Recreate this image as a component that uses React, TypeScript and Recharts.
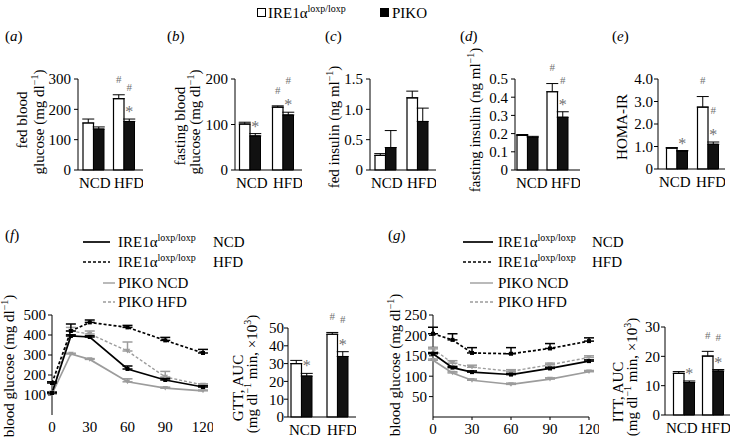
import React from "react";
import { BarChart, Bar, XAxis, YAxis, ErrorBar, LabelList, LineChart, Line } from "recharts";

const FONT = '"Liberation Serif", "Times New Roman", serif';
const GRAY = "#9c9c9c";
const MARK = "#707070";

const groups = ["NCD", "HFD"];

// (a) fed blood glucose
const aWT = [155, 235];
const aWTErr = [13, 13];
const aKO = [135, 160];
const aKOErr = [7, 8];
const aWTMark = ["", "#"];
const aKOMark = ["", "*#"];
const aTicks = [0, 100, 200, 300];

// (b) fasting blood glucose
const bWT = [101, 138];
const bWTErr = [4, 3];
const bKO = [75, 121];
const bKOErr = [5, 6];
const bWTMark = ["", "#"];
const bKOMark = ["*", "*#"];
const bTicks = [0, 100, 200];

// (c) fed insulin
const cWT = [0.24, 1.19];
const cWTErr = [0.03, 0.11];
const cKO = [0.37, 0.8];
const cKOErr = [0.28, 0.22];
const cWTMark = ["", ""];
const cKOMark = ["", ""];
const cTicks = [0, 0.5, 1.0, 1.5];

// (d) fasting insulin
const dWT = [0.19, 0.43];
const dWTErr = [0.005, 0.045];
const dKO = [0.18, 0.29];
const dKOErr = [0.005, 0.03];
const dWTMark = ["", "#"];
const dKOMark = ["", "*#"];
const dTicks = [0, 0.1, 0.2, 0.3, 0.4, 0.5];

// (e) HOMA-IR
const eWT = [0.93, 2.75];
const eWTErr = [0.02, 0.47];
const eKO = [0.8, 1.1];
const eKOErr = [0.02, 0.1];
const eWTMark = ["", "#"];
const eKOMark = ["*", "*#"];
const eTicks = [0, 1, 2, 3, 4];

// (f) GTT AUC
const fWT = [30, 46.5];
const fWTErr = [1.8, 1];
const fKO = [23, 34];
const fKOErr = [1.5, 2.7];
const fWTMark = ["", "#"];
const fKOMark = ["*", "*#"];
const fBarTicks = [0, 10, 20, 30, 40, 50];

// (g) ITT AUC
const gWT = [14.2, 20.1];
const gWTErr = [0.6, 1.6];
const gKO = [11.1, 15];
const gKOErr = [0.5, 0.5];
const gWTMark = ["", "#"];
const gKOMark = ["*", "*#"];
const gBarTicks = [0, 10, 20, 30];

// time courses (min)
const times = [0, 15, 30, 60, 90, 120];
const timeTicks = [0, 30, 60, 90, 120];

// (f) GTT
const fIreNcd = [110, 395, 390, 230, 175, 140];
const fIreNcdErr = [4, 6, 6, 15, 8, 6];
const fIreHfd = [160, 420, 463, 438, 373, 310];
const fIreHfdErr = [6, 35, 12, 10, 15, 18];
const fPikoNcd = [105, 305, 278, 166, 134, 121];
const fPikoNcdErr = [3, 4, 4, 15, 5, 4];
const fPikoHfd = [112, 420, 405, 320, 190, 150];
const fPikoHfdErr = [4, 18, 15, 45, 28, 6];
const fLineTicks = [100, 200, 300, 400, 500];

// (g) ITT
const gIreNcd = [155, 121, 110, 104, 119, 137];
const gIreNcdErr = [3, 3, 3, 3, 3, 3];
const gIreHfd = [204, 189, 157, 155, 168, 186];
const gIreHfdErr = [16, 15, 13, 15, 12, 8];
const gPikoNcd = [139, 108, 90, 80, 93, 111];
const gPikoNcdErr = [3, 3, 3, 3, 3, 3];
const gPikoHfd = [167, 132, 122, 112, 128, 146];
const gPikoHfdErr = [4, 6, 5, 4, 4, 4];
const gLineTicks = [50, 100, 150, 200, 250];

const fmt1 = (v: number) => (v === 0 ? "0" : v.toFixed(1));

const tickStyle = { fontSize: 15, fill: "#000", fontFamily: FONT };

function markLabel(vals: number[], errs: number[]) {
  return (p: any) => {
    const { x, y, width, height, value, index } = p;
    if (!value) return null;
    const errPx = (height * errs[index]) / vals[index];
    const top = y - errPx;
    const out: any[] = [];
    let cy = top;
    String(value).split("").forEach((s, k) => {
      cy -= k === 0 ? (s === "#" ? 16 : 10) : 22;
      const fs = s === "#" ? 11 : 16;
      out.push(
        <text key={k} x={x + width / 2} y={cy + (s === "#" ? 0.34 : 0.5) * fs} textAnchor="middle"
          fontSize={fs} fill={MARK} fontFamily={FONT}>{s}</text>
      );
    });
    return <g key={`m-${index}-${x}`}>{out}</g>;
  };
}

// group names sit flush with the two ends of the x axis
function edgeTick(left: number, right: number) {
  return (p: any) => {
    const first = p.index === 0;
    return (
      <text x={first ? left + 1 : right + 1} y={p.y} dy="0.71em" textAnchor={first ? "start" : "end"}
        fontSize={15} fill="#000" fontFamily={FONT}>{p.payload.value}</text>
    );
  };
}

type BarProps = {
  wt: number[]; wtErr: number[]; ko: number[]; koErr: number[];
  wtMark: string[]; koMark: string[]; ticks: number[]; fmt?: (v: number) => string;
  axisX: number; plotTop: number; plotBottom: number; axisEnd: number;
  padLeft?: number; padRight?: number; yGap?: number;
};

function BarPanel(props: BarProps) {
  const { wt, wtErr, ko, koErr, wtMark, koMark, ticks, fmt, axisX, plotTop, plotBottom, axisEnd,
    padLeft = 0, padRight = 0, yGap = 3 } = props;
  const YW = 44, MT = 34, XH = 24;
  const data = groups.map((g, i) => ({
    g, wt: wt[i], wtE: [0, wtErr[i]], ko: ko[i], koE: [0, koErr[i]], wtM: wtMark[i], koM: koMark[i],
  }));
  const width = YW + (axisEnd - axisX);
  const height = MT + (plotBottom - plotTop) + XH;
  return (
    <div style={{ position: "absolute", left: axisX - YW, top: plotTop - MT }}>
      <BarChart width={width} height={height} data={data} margin={{ top: MT, right: 0, left: 0, bottom: 0 }}
        barGap={0} barSize={10.5}>
        <XAxis dataKey="g" tickLine={false} axisLine={{ stroke: "#000" }} tick={edgeTick(YW, width)}
          tickSize={4} tickMargin={3} height={XH} padding={{ left: padLeft, right: padRight }} interval={0} />
        <YAxis width={YW} domain={[0, ticks[ticks.length - 1]]} ticks={ticks} tickFormatter={fmt} interval={0}
          axisLine={{ stroke: "#000" }} tickLine={{ stroke: "#000" }} tickSize={4} tickMargin={yGap} tick={tickStyle} />
        <Bar dataKey="wt" fill="#fff" stroke="#000" strokeWidth={1.2} isAnimationActive={false}>
          <ErrorBar dataKey="wtE" width={6} stroke="#000" strokeWidth={1} isAnimationActive={false} />
          <LabelList dataKey="wtM" content={markLabel(wt, wtErr)} />
        </Bar>
        <Bar dataKey="ko" fill="#111" stroke="#000" strokeWidth={1} isAnimationActive={false}>
          <ErrorBar dataKey="koE" width={6} stroke="#000" strokeWidth={1} isAnimationActive={false} />
          <LabelList dataKey="koM" content={markLabel(ko, koErr)} />
        </Bar>
      </BarChart>
    </div>
  );
}

const squareDot = (color: string) => (p: any) =>
  p.cx == null ? <g key={p.index} /> :
    <rect key={p.index} x={p.cx - 2} y={p.cy - 2} width={4} height={4} fill={color} />;
const triDot = (color: string) => (p: any) =>
  p.cx == null ? <g key={p.index} /> :
    <path key={p.index} d={`M${p.cx - 2.8},${p.cy - 2.2}L${p.cx + 2.8},${p.cy - 2.2}L${p.cx},${p.cy + 2.4}Z`} fill={color} />;

type LineProps = {
  ireNcd: number[]; ireNcdErr: number[]; ireHfd: number[]; ireHfdErr: number[];
  pikoNcd: number[]; pikoNcdErr: number[]; pikoHfd: number[]; pikoHfdErr: number[];
  yTicks: number[]; axisX: number; plotTop: number; plotBottom: number; plotRight: number;
  xLine: boolean; yMargin: number;
};

function LinePanel(props: LineProps) {
  const { yTicks, axisX, plotTop, plotBottom, plotRight, xLine, yMargin } = props;
  const YW = 50, MT = 10, XH = 22, MR = 10;
  const data = times.map((t, i) => ({
    t,
    ireNcd: props.ireNcd[i], ireNcdE: [0, props.ireNcdErr[i]],
    ireHfd: props.ireHfd[i], ireHfdE: [0, props.ireHfdErr[i]],
    pikoNcd: props.pikoNcd[i], pikoNcdE: [0, props.pikoNcdErr[i]],
    pikoHfd: props.pikoHfd[i], pikoHfdE: [0, props.pikoHfdErr[i]],
  }));
  const width = YW + (plotRight - axisX) + MR;
  const height = MT + (plotBottom - plotTop) + XH;
  return (
    <div style={{ position: "absolute", left: axisX - YW, top: plotTop - MT }}>
      <LineChart width={width} height={height} data={data} margin={{ top: MT, right: MR, left: 0, bottom: 0 }}>
        <XAxis dataKey="t" type="number" domain={[0, 120]} ticks={timeTicks} tick={tickStyle} interval={0}
          axisLine={xLine ? { stroke: "#000" } : false} tickLine={xLine ? { stroke: "#000" } : false}
          tickSize={3} tickMargin={3} height={XH} />
        <YAxis width={YW} domain={[0, yTicks[yTicks.length - 1]]} ticks={yTicks} tick={tickStyle} interval={0}
          axisLine={{ stroke: "#000" }} tickLine={{ stroke: "#000" }} tickSize={4} tickMargin={yMargin} />
        <Line dataKey="pikoNcd" stroke={GRAY} strokeWidth={1.7} dot={triDot(GRAY)} isAnimationActive={false}>
          <ErrorBar dataKey="pikoNcdE" width={5} stroke={GRAY} isAnimationActive={false} />
        </Line>
        <Line dataKey="pikoHfd" stroke={GRAY} strokeWidth={1.4} strokeDasharray="3 2" dot={triDot(GRAY)} isAnimationActive={false}>
          <ErrorBar dataKey="pikoHfdE" width={5} stroke={GRAY} isAnimationActive={false} />
        </Line>
        <Line dataKey="ireNcd" stroke="#000" strokeWidth={1.7} dot={squareDot("#000")} isAnimationActive={false}>
          <ErrorBar dataKey="ireNcdE" width={5} stroke="#000" isAnimationActive={false} />
        </Line>
        <Line dataKey="ireHfd" stroke="#000" strokeWidth={1.7} strokeDasharray="3 2" dot={squareDot("#000")} isAnimationActive={false}>
          <ErrorBar dataKey="ireHfdE" width={5} stroke="#000" isAnimationActive={false} />
        </Line>
      </LineChart>
    </div>
  );
}

const VLabel = ({ cx, cy, children }: { cx: number; cy: number; children: React.ReactNode }) => (
  <div style={{
    position: "absolute", left: cx, top: cy, transform: "translate(-50%, -50%) rotate(-90deg)",
    whiteSpace: "nowrap", fontSize: 15, lineHeight: "15px",
  }}>{children}</div>
);

const Sup = ({ children }: { children: React.ReactNode }) => (
  <span style={{ fontSize: 10, position: "relative", top: -6 }}>{children}</span>
);

const PLabel = ({ x, y, l }: { x: number; y: number; l: string }) => (
  <div style={{ position: "absolute", left: x, top: y - 8, fontSize: 15, lineHeight: "16px" }}>(<i>{l}</i>)</div>
);

const units = <>(mg dl<Sup>−1</Sup>)</>;
const aucUnits = <>(mg dl<Sup>−1</Sup> min, ×10<Sup>3</Sup>)</>;

type LegendProps = { lineX1: number; lineX2: number; grayX1: number; grayX2: number; textX: number; sufX: number };

function LineLegend({ lineX1, lineX2, grayX1, grayX2, textX, sufX }: LegendProps) {
  const rows = [
    { y: 242, color: "#000", dash: undefined, x1: lineX1, x2: lineX2, ire: true, suf: "NCD" },
    { y: 262, color: "#000", dash: "3 2", x1: lineX1, x2: lineX2, ire: true, suf: "HFD" },
    { y: 283, color: GRAY, dash: undefined, x1: grayX1, x2: grayX2, ire: false, suf: "NCD" },
    { y: 302, color: GRAY, dash: "3 2", x1: grayX1, x2: grayX2, ire: false, suf: "HFD" },
  ];
  return (
    <>
      {rows.map((r, i) => (
        <React.Fragment key={i}>
          <svg style={{ position: "absolute", left: 0, top: 0, overflow: "visible" }} width={1} height={1}>
            <line x1={r.x1} x2={r.x2} y1={r.y} y2={r.y} stroke={r.color} strokeWidth={r.ire ? 1.7 : 1.4}
              strokeDasharray={r.dash} />
          </svg>
          <div style={{ position: "absolute", left: textX, top: r.y - 9, fontSize: 15, lineHeight: "18px", whiteSpace: "nowrap" }}>
            {r.ire ? <>IRE1α<Sup>loxp/loxp</Sup></> : <>PIKO {r.suf}</>}
          </div>
          {r.ire && (
            <div style={{ position: "absolute", left: sufX, top: r.y - 9, fontSize: 15, lineHeight: "18px" }}>{r.suf}</div>
          )}
        </React.Fragment>
      ))}
    </>
  );
}

export default function App() {
  return (
    <div style={{
      position: "absolute", left: 0, top: 0, width: 734, height: 437, overflow: "hidden",
      background: "#fff", fontFamily: FONT, color: "#000",
    }}>
      {/* top legend */}
      <div style={{ position: "absolute", left: 257, top: 8, width: 7, height: 7, border: "1.4px solid #000" }} />
      <div style={{ position: "absolute", left: 268, top: 4, fontSize: 15, lineHeight: "18px", whiteSpace: "nowrap" }}>
        IRE1α<Sup>loxp/loxp</Sup>
      </div>
      <div style={{ position: "absolute", left: 380, top: 8, width: 9, height: 9, background: "#000" }} />
      <div style={{ position: "absolute", left: 392, top: 4, fontSize: 15, lineHeight: "18px" }}>PIKO</div>

      <PLabel x={5} y={36} l="a" />
      <PLabel x={167} y={36} l="b" />
      <PLabel x={325} y={36} l="c" />
      <PLabel x={460} y={36} l="d" />
      <PLabel x={612} y={36} l="e" />
      <PLabel x={5} y={235} l="f" />
      <PLabel x={388} y={235} l="g" />

      <VLabel cx={22} cy={120}>fed blood</VLabel>
      <VLabel cx={40} cy={122}>glucose {units}</VLabel>
      <VLabel cx={180} cy={126}>fasting blood</VLabel>
      <VLabel cx={196} cy={122}>glucose {units}</VLabel>
      <VLabel cx={335} cy={127}>fed insulin (ng ml<Sup>−1</Sup>)</VLabel>
      <VLabel cx={476} cy={120}>fasting insulin (ng ml<Sup>−1</Sup>)</VLabel>
      <VLabel cx={622} cy={127}>HOMA-IR</VLabel>
      <VLabel cx={10} cy={366}>blood glucose {units}</VLabel>
      <VLabel cx={238} cy={388}>GTT, AUC</VLabel>
      <VLabel cx={253} cy={374}>{aucUnits}</VLabel>
      <VLabel cx={396} cy={365}>blood glucose {units}</VLabel>
      <VLabel cx={618} cy={392}>ITT, AUC</VLabel>
      <VLabel cx={633} cy={377}>{aucUnits}</VLabel>

      <BarPanel wt={aWT} wtErr={aWTErr} ko={aKO} koErr={aKOErr} wtMark={aWTMark} koMark={aKOMark}
        ticks={aTicks} axisX={78} plotTop={79} plotBottom={170} axisEnd={143} padRight={4} />
      <BarPanel wt={bWT} wtErr={bWTErr} ko={bKO} koErr={bKOErr} wtMark={bWTMark} koMark={bKOMark}
        ticks={bTicks} axisX={235} plotTop={79} plotBottom={170} axisEnd={302} padLeft={-1.5} padRight={2.5} />
      <BarPanel wt={cWT} wtErr={cWTErr} ko={cKO} koErr={cKOErr} wtMark={cWTMark} koMark={cKOMark}
        ticks={cTicks} fmt={fmt1} axisX={370} plotTop={79} plotBottom={170} axisEnd={436} padLeft={-1} padRight={3} />
      <BarPanel wt={dWT} wtErr={dWTErr} ko={dKO} koErr={dKOErr} wtMark={dWTMark} koMark={dKOMark}
        ticks={dTicks} fmt={fmt1} axisX={515} plotTop={79} plotBottom={170} axisEnd={580} padLeft={-3} padRight={8} />
      <BarPanel wt={eWT} wtErr={eWTErr} ko={eKO} koErr={eKOErr} wtMark={eWTMark} koMark={eKOMark}
        ticks={eTicks} fmt={fmt1} axisX={658} plotTop={79} plotBottom={169} axisEnd={725} padLeft={3.5} padRight={1.5} yGap={1} />
      <BarPanel wt={fWT} wtErr={fWTErr} ko={fKO} koErr={fKOErr} wtMark={fWTMark} koMark={fKOMark}
        ticks={fBarTicks} axisX={288} plotTop={328} plotBottom={417} axisEnd={356} padLeft={-5} padRight={1} yGap={0} />
      <BarPanel wt={gWT} wtErr={gWTErr} ko={gKO} koErr={gKOErr} wtMark={gWTMark} koMark={gKOMark}
        ticks={gBarTicks} axisX={665} plotTop={327} plotBottom={415} axisEnd={730} padLeft={4.5} padRight={2.5} yGap={1} />

      <LineLegend lineX1={83} lineX2={110} grayX1={103} grayX2={115} textX={118} sufX={213} />
      <LineLegend lineX1={463} lineX2={493} grayX1={470} grayX2={493} textX={498} sufX={592} />

      <LinePanel ireNcd={fIreNcd} ireNcdErr={fIreNcdErr} ireHfd={fIreHfd} ireHfdErr={fIreHfdErr}
        pikoNcd={fPikoNcd} pikoNcdErr={fPikoNcdErr} pikoHfd={fPikoHfd} pikoHfdErr={fPikoHfdErr}
        yTicks={fLineTicks} axisX={52} plotTop={315} plotBottom={415} plotRight={203} xLine={false} yMargin={2} />
      <LinePanel ireNcd={gIreNcd} ireNcdErr={gIreNcdErr} ireHfd={gIreHfd} ireHfdErr={gIreHfdErr}
        pikoNcd={gPikoNcd} pikoNcdErr={gPikoNcdErr} pikoHfd={gPikoHfd} pikoHfdErr={gPikoHfdErr}
        yTicks={gLineTicks} axisX={433} plotTop={315} plotBottom={417} plotRight={589} xLine={true} yMargin={2} />
    </div>
  );
}
